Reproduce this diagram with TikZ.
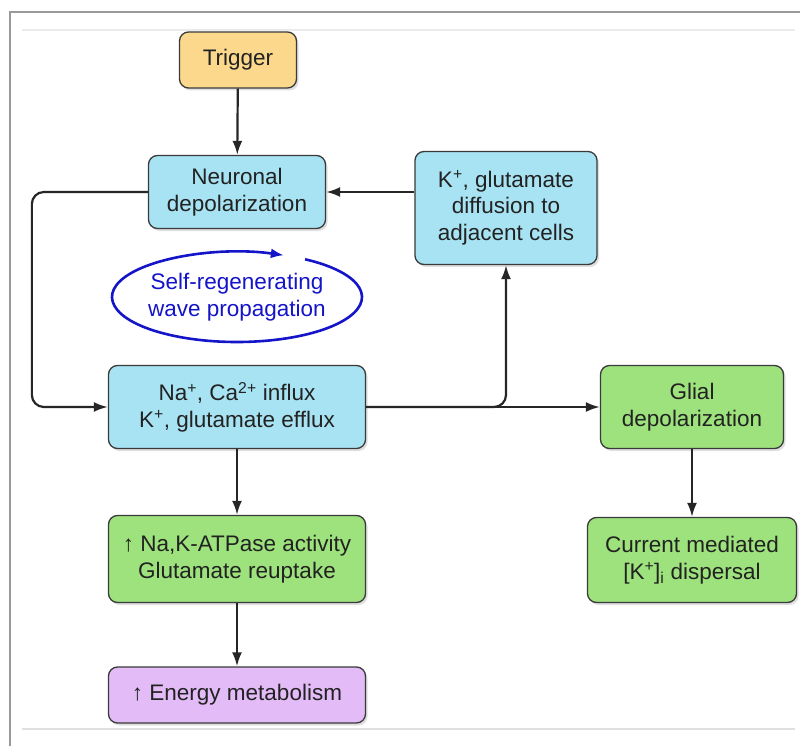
\documentclass[tikz,border=0pt]{standalone}
\usepackage{fontspec}
\setmainfont{Liberation Sans}
\usetikzlibrary{arrows.meta,shadows,calc}
\definecolor{trigfill}{HTML}{FBD88C}
\definecolor{bluefill}{HTML}{A8E3F3}
\definecolor{greenfill}{HTML}{9DE27C}
\definecolor{purpfill}{HTML}{E3BBF6}
\definecolor{edgecol}{HTML}{3A3A3A}
\definecolor{txtcol}{HTML}{222222}
\definecolor{wave}{HTML}{1414C8}
\begin{document}
\begin{tikzpicture}[x=1pt,y=-1pt,
  box/.style={draw=edgecol, line width=1.3pt, rounded corners=9pt, align=center,
    text=txtcol, font=\fontsize{22.5}{26.5}\selectfont, inner sep=0pt,
    drop shadow={shadow xshift=2pt, shadow yshift=-2.5pt, opacity=0.25}},
  arr/.style={draw=black!85, line width=2.2pt, -{Latex[length=14pt,width=10pt]}},
]
\useasboundingbox (0,0) rectangle (800,746);
\fill[white] (0,0) rectangle (800,746);
% frame
\draw[black!40, line width=1.2pt] (10,746) -- (10,12) -- (800,12);
\draw[black!8, line width=1.5pt] (22,30) -- (795,30);
\draw[black!12, line width=2.5pt] (22,729) -- (795,729);

\node[box, fill=trigfill, minimum width=117pt, minimum height=56pt] (trig) at (238,60) {Trigger};
\node[box, fill=bluefill, minimum width=177pt, minimum height=73pt] (neu) at (237,192) {Neuronal\\depolarization};
\node[box, fill=bluefill, minimum width=182pt, minimum height=113pt] (kbox) at (506,208) {K\textsuperscript{+}, glutamate\\diffusion to\\adjacent cells};
\node[box, fill=bluefill, minimum width=257pt, minimum height=83pt] (na) at (237,407) {Na\textsuperscript{+}, Ca\textsuperscript{2+} influx\\K\textsuperscript{+}, glutamate efflux};
\node[box, fill=greenfill, minimum width=183pt, minimum height=83pt] (gl) at (692,407) {Glial\\depolarization};
\node[box, fill=greenfill, minimum width=257pt, minimum height=87pt] (nak) at (237,559) {↑ Na,K-ATPase activity\\Glutamate reuptake};
\node[box, fill=greenfill, minimum width=209pt, minimum height=85pt] (cur) at (692,560) {Current mediated\\{}[K\textsuperscript{+}]\textsubscript{i} dispersal};
\node[box, fill=purpfill, minimum width=257pt, minimum height=56pt] (en) at (237,695) {↑ Energy metabolism};

% wave ellipse
\coordinate (ec) at (237,297);
\coordinate (wstart) at ($(ec)+({125*cos(57)},{-45*sin(57)})$);
\draw[wave, line width=2.6pt, -{Latex[length=13pt,width=10pt]}]
  (wstart) arc[start angle=57, end angle=-292, x radius=125pt, y radius=45pt];
\node[text=wave, align=center, font=\fontsize{22.5}{26.5}\selectfont] (wtext) at (ec) {Self-regenerating\\wave propagation};

% connectors
\draw[arr] (trig) -- (neu);
\draw[arr] (kbox.west |- neu.east) -- (neu.east);
\draw[arr, rounded corners=12pt] (neu.west) -- ++(-116,0) |- (na.west);
\draw[arr] (na.east) -- (gl.west);
\draw[arr, rounded corners=12pt] (na.east) -| (kbox.south);
\draw[arr] (na) -- (nak);
\draw[arr] (nak) -- (en);
\draw[arr] (gl) -- (cur);
\end{tikzpicture}
\end{document}
